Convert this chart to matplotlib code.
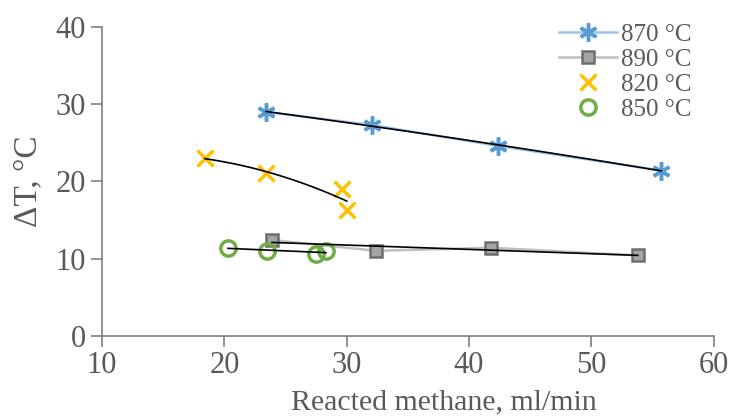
import numpy as np
import matplotlib.pyplot as plt

plt.rcParams['font.family'] = ['Liberation Serif', 'DejaVu Serif']

# data
x870 = [23.4, 32.1, 42.4, 55.7]
y870 = [29.0, 27.3, 24.6, 21.4]
x890 = [23.9, 32.4, 41.8, 53.8]
y890 = [12.4, 11.0, 11.4, 10.4]
x820 = [18.4, 23.4, 29.6, 30.0]
y820 = [23.0, 21.1, 19.0, 16.3]
x850 = [20.3, 23.5, 27.5, 28.3]
y850 = [11.4, 11.0, 10.6, 11.0]

grey = '#595959'

fig = plt.figure(figsize=(7.29, 4.17), dpi=100)
ax = fig.add_axes([0.140, 0.195, 0.839, 0.740])

ax.plot(x870, y870, color='#9dc3e6', lw=1.8, marker=(6, 2, 0), ms=13,
        mec='#5b9bd5', mfc='#5b9bd5', mew=2.5, label='870 °C', zorder=3)
ax.plot(x890, y890, color='#bfbfbf', lw=1.8, marker='s', ms=9,
        mec='#6e6e6e', mfc='#a5a5a5', mew=1.8, label='890 °C', zorder=3)
ax.plot(x820, y820, ls='none', marker='x', ms=11, mec='#ffc000', mew=2.5,
        label='820 °C', zorder=3)
ax.plot(x850, y850, ls='none', marker='o', ms=11, mec='#70ad47', mfc='none',
        mew=2.5, label='850 °C', zorder=3)

# trendlines
def trend(x, y, deg):
    p = np.polyfit(x, y, deg)
    xs = np.linspace(min(x), max(x), 100)
    ax.plot(xs, np.polyval(p, xs), color='black', lw=1.2, zorder=4)

trend(x870, y870, 2)
trend(x890, y890, 1)
trend(x820, y820, 2)
trend(x850, y850, 1)

ax.set_xlim(10, 60)
ax.set_ylim(0, 40)
ax.set_xticks(range(10, 61, 10))
ax.set_yticks(range(0, 41, 10))
for s in ['top', 'right']:
    ax.spines[s].set_visible(False)
for s in ['left', 'bottom']:
    ax.spines[s].set_color('#7f7f7f')
    ax.spines[s].set_linewidth(1.2)
ax.tick_params(colors='#7f7f7f', labelcolor=grey, labelsize=22, length=8, width=1.2)
ax.tick_params(axis='x', pad=3)
ax.set_xlabel('Reacted methane, ml/min', fontsize=21.5, color=grey)
ax.xaxis.set_label_coords(0.559, -0.175)
ax.set_ylabel('ΔT, °C', fontsize=24, color=grey, labelpad=9)

leg = ax.legend(loc='upper right', bbox_to_anchor=(1.0, 1.085), frameon=False,
                fontsize=18, handlelength=2.3, handletextpad=0.15, labelspacing=0.1,
                labelcolor=grey)

fig.savefig('out.png', dpi=100)
